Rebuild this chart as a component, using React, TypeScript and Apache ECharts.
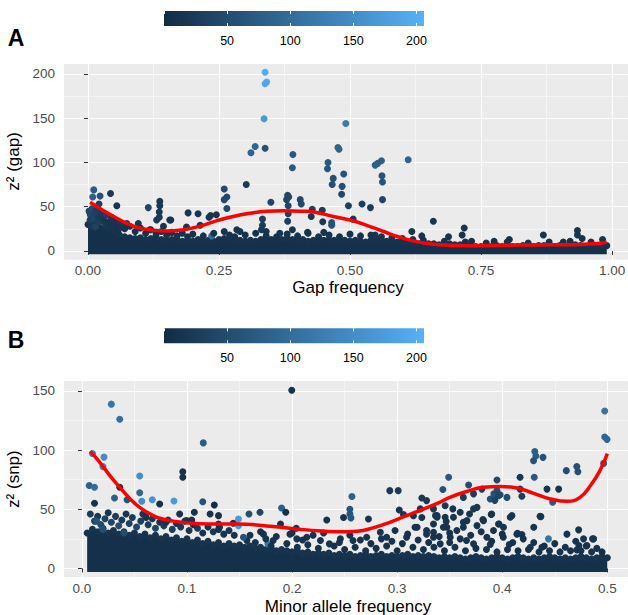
import React, { useEffect, useRef } from "react";
import * as echarts from "echarts";

// ---------- colour scale ----------
const colorMin = 0;
const colorMax = 206;
const colorLow = "#132B43";
const colorHigh = "#56B1F7";

// ---------- Panel A : gap ----------
const gapBandX = [
  0.0, 0.01, 0.02, 0.03, 0.04, 0.05, 0.06, 0.07, 0.08, 0.09,
  0.1, 0.11, 0.12, 0.13, 0.14, 0.15, 0.16, 0.17, 0.18, 0.19,
  0.2, 0.21, 0.22, 0.23, 0.24, 0.25, 0.26, 0.27, 0.28, 0.29,
  0.3, 0.31, 0.32, 0.33, 0.34, 0.35, 0.36, 0.37, 0.38, 0.39,
  0.4, 0.41, 0.42, 0.43, 0.44, 0.45, 0.46, 0.47, 0.48, 0.49,
  0.5, 0.51, 0.52, 0.53, 0.54, 0.55, 0.56, 0.57, 0.58, 0.59,
  0.6, 0.61, 0.62, 0.63, 0.64, 0.65, 0.66, 0.67, 0.68, 0.69,
  0.7, 0.71, 0.72, 0.73, 0.74, 0.75, 0.76, 0.77, 0.78, 0.79,
  0.8, 0.81, 0.82, 0.83, 0.84, 0.85, 0.86, 0.87, 0.88, 0.89,
  0.9, 0.91, 0.92, 0.93, 0.94, 0.95, 0.96, 0.97, 0.98, 0.99,
];
const gapBandTop = [
  30, 34, 28, 26, 24, 21, 18, 16, 15, 14,
  15, 13, 14, 15, 13, 12, 13, 12, 11, 12,
  11, 13, 11, 12, 11, 13, 14, 12, 11, 12,
  11, 12, 11, 13, 14, 13, 12, 13, 14, 13,
  12, 13, 11, 12, 13, 12, 13, 12, 11, 12,
  11, 12, 11, 10, 12, 13, 12, 11, 10, 10,
  9, 10, 9, 8, 9, 8, 8, 7, 8, 8,
  7, 7, 6, 6, 5, 5, 6, 5, 6, 5,
  6, 5, 5, 6, 5, 5, 6, 6, 5, 5,
  6, 5, 6, 7, 6, 5, 6, 6, 7, 6,
];
const gapBandFloor = -3.8;
const gapBandC = 10;

// [x, z^2, colour value]
const gapPoints = [
  [0.338, 202, 200], [0.341, 191, 195], [0.338, 189, 190], [0.336, 149.5, 170], [0.492, 144, 120],
  [0.319, 118, 90], [0.311, 111, 85], [0.338, 116, 60], [0.477, 117, 85], [0.479, 115, 85],
  [0.391, 109, 70], [0.39, 94, 70], [0.458, 100, 65], [0.457, 93, 65], [0.548, 97, 80],
  [0.553, 99, 80], [0.56, 102, 80], [0.611, 103, 85], [0.561, 85, 60], [0.562, 78, 60],
  [0.468, 82, 55], [0.466, 75, 55], [0.485, 73, 55], [0.488, 87, 60], [0.484, 64, 45],
  [0.302, 75, 25], [0.381, 63, 40], [0.383, 61, 40], [0.379, 58, 40], [0.382, 51, 40],
  [0.382, 42, 35], [0.381, 33.5, 30], [0.405, 58, 45], [0.407, 53, 45], [0.349, 55, 40],
  [0.428, 47, 30], [0.447, 46, 25], [0.426, 39, 20], [0.497, 51, 30], [0.523, 53, 30],
  [0.539, 49, 30], [0.562, 58, 40], [0.448, 33, 20], [0.465, 32, 60], [0.465, 29, 60],
  [0.333, 36, 30], [0.333, 29, 25], [0.366, 20, 15], [0.39, 24, 15], [0.419, 21, 15],
  [0.45, 21, 15], [0.506, 36, 20], [0.659, 33.5, 15], [0.618, 22, 15], [0.637, 17, 12],
  [0.29, 22, 15], [0.331, 24, 20], [0.34, 22, 15], [0.548, 18, 15],
  [0.011, 69, 75], [0.009, 61, 80], [0.023, 62, 60], [0.043, 65, 20], [0.055, 51, 15],
  [0.017, 39, 15], [0.004, 42, 20], [0.004, 31, 15], [0.115, 49, 40], [0.137, 56, 20],
  [0.137, 51, 20], [0.136, 44, 20], [0.136, 38, 20], [0.158, 35, 15], [0.191, 43, 15],
  [0.234, 40, 15], [0.245, 41, 15], [0.236, 17, 100], [0.26, 70, 45], [0.265, 61, 45],
  [0.26, 58, 45], [0.265, 48, 45], [0.144, 28, 15], [0.021, 53, 30], [0.21, 42, 15],
  [0.231, 38, 15], [0.096, 31, 15], [0.156, 35, 15], [0.188, 27, 15], [0.074, 31, 15],
  [0.045, 32, 20], [0.013, 44, 45], [0.013, 37, 30], [0.064, 28, 15], [0.118, 24, 15],
  [0.131, 35, 20], [0.214, 29, 15], [0.284, 24, 15],
  [0.718, 26, 15], [0.714, 18, 12], [0.688, 16, 12], [0.732, 11, 10], [0.775, 11, 10],
  [0.804, 13, 10], [0.869, 18, 12], [0.934, 23, 15], [0.934, 18, 15], [0.943, 14, 12],
  [0.982, 13, 10], [0.907, 10, 10],
  [0.002, 45, 40], [0.005, 40, 45], [0.008, 48, 50], [0.004, 35, 30], [0.01, 42, 35],
  [0.012, 36, 40], [0.015, 46, 30], [0.018, 32, 25], [0.006, 28, 20], [0.014, 27, 35],
  [0.022, 33, 30], [0.027, 38, 20], [0.033, 30, 25], [0.038, 27, 15], [0.043, 35, 20],
  [0.048, 26, 12], [0.052, 29, 18], [0.058, 24, 10],
  [0.02, 38, 20], [0.025, 44, 25], [0.03, 35, 15], [0.035, 41, 30], [0.04, 32, 12],
  [0.045, 38, 20], [0.05, 30, 10], [0.055, 34, 15], [0.06, 27, 12], [0.065, 31, 18],
  [0.07, 25, 10], [0.08, 28, 15], [0.09, 22, 10], [0.1, 26, 12], [0.11, 20, 10],
  [0.12, 24, 14], [0.13, 19, 9], [0.14, 22, 12], [0.15, 18, 10], [0.16, 21, 9],
  [0.17, 17, 11], [0.18, 20, 10], [0.19, 16, 9], [0.2, 19, 12], [0.22, 17, 10],
  [0.24, 20, 11], [0.26, 22, 12], [0.27, 18, 10], [0.28, 16, 9], [0.3, 18, 12],
  [0.32, 20, 10], [0.34, 17, 11], [0.36, 16, 9], [0.38, 19, 12], [0.4, 17, 10],
  [0.42, 20, 11], [0.44, 16, 9], [0.46, 18, 12], [0.48, 16, 10], [0.5, 19, 11],
  [0.52, 17, 9], [0.54, 18, 12], [0.56, 16, 10], [0.58, 15, 11], [0.6, 14, 9],
  [0.62, 13, 10], [0.64, 12, 9], [0.68, 11, 10], [0.72, 10, 9], [0.76, 9, 10],
  [0.8, 10, 9], [0.84, 9, 10], [0.88, 10, 9], [0.92, 11, 10], [0.96, 10, 9],
];

const gapCurveX = [
  0.004, 0.023, 0.055, 0.087, 0.118, 0.15, 0.182, 0.214, 0.245, 0.277, 0.309,
  0.341, 0.373, 0.405, 0.436, 0.468, 0.5, 0.532, 0.564, 0.595, 0.627, 0.659,
  0.691, 0.723, 0.754, 0.786, 0.85, 0.913, 0.945, 0.977, 0.99,
];
const gapCurveY = [
  55, 48, 37, 28, 24, 22.5, 24, 28, 34, 39, 42.6,
  45, 45.5, 45, 43.5, 39, 35, 29, 22, 15.5, 10.5, 7.5,
  6.4, 6, 6, 6.4, 6.8, 7, 7.7, 8.6, 10,
];

// ---------- Panel B : snp ----------
const snpBandX = [
  0.005, 0.01, 0.015, 0.02, 0.025, 0.03, 0.035, 0.04, 0.045, 0.05,
  0.055, 0.06, 0.065, 0.07, 0.075, 0.08, 0.085, 0.09, 0.095, 0.1,
  0.105, 0.11, 0.115, 0.12, 0.125, 0.13, 0.135, 0.14, 0.145, 0.15,
  0.155, 0.16, 0.165, 0.17, 0.175, 0.18, 0.185, 0.19, 0.195, 0.2,
  0.205, 0.21, 0.215, 0.22, 0.225, 0.23, 0.235, 0.24, 0.245, 0.25,
  0.255, 0.26, 0.265, 0.27, 0.275, 0.28, 0.285, 0.29, 0.295, 0.3,
  0.305, 0.31, 0.315, 0.32, 0.325, 0.33, 0.335, 0.34, 0.345, 0.35,
  0.355, 0.36, 0.365, 0.37, 0.375, 0.38, 0.385, 0.39, 0.395, 0.4,
  0.405, 0.41, 0.415, 0.42, 0.425, 0.43, 0.435, 0.44, 0.445, 0.45,
  0.455, 0.46, 0.465, 0.47, 0.475, 0.48, 0.485, 0.49, 0.495, 0.5,
];
const snpBandTop = [
  30, 33, 31, 34, 30, 32, 29, 31, 28, 30,
  27, 29, 26, 28, 25, 27, 24, 26, 23, 25,
  22, 24, 21, 23, 20, 22, 19, 21, 19, 20,
  18, 19, 17, 18, 16, 17, 15, 16, 15, 14,
  15, 13, 14, 12, 13, 12, 13, 11, 12, 11,
  12, 10, 11, 12, 10, 11, 12, 10, 11, 10,
  11, 12, 10, 11, 10, 11, 10, 9, 10, 9,
  10, 9, 8, 9, 10, 9, 8, 9, 10, 9,
  8, 9, 10, 9, 8, 9, 8, 9, 10, 9,
  8, 9, 8, 9, 10, 9, 8, 9, 10, 9,
];
const snpBandFloor = -2.9;
const snpBandC = 12;

const snpPoints = [
  [0.1997, 150.5, 10], [0.028, 138.7, 110], [0.036, 126, 105], [0.1155, 106, 75], [0.01, 97, 130],
  [0.021, 94, 150], [0.02, 86, 140], [0.096, 81.7, 10], [0.096, 77, 10], [0.055, 78, 150],
  [0.007, 70, 80], [0.012, 68.5, 100], [0.036, 68.5, 8], [0.055, 64, 90], [0.031, 59.5, 80],
  [0.043, 58, 60], [0.057, 56.7, 150], [0.067, 58, 160], [0.074, 54.5, 8], [0.0876, 57, 170],
  [0.115, 56.4, 60], [0.126, 53.6, 5], [0.012, 55, 10], [0.149, 41.8, 170], [0.149, 36, 170],
  [0.159, 46, 55], [0.1695, 47.4, 40], [0.19, 51, 80], [0.194, 47.4, 8], [0.189, 37.6, 12],
  [0.204, 34, 12], [0.177, 20.8, 120],
  [0.257, 60.7, 80], [0.255, 50, 65], [0.255, 46, 65], [0.256, 42.7, 65], [0.249, 43, 10],
  [0.233, 41, 10], [0.293, 65.7, 20], [0.301, 65.7, 25], [0.3235, 59.5, 20], [0.2727, 41.8, 15],
  [0.302, 49.4, 15], [0.306, 45.5, 15], [0.3155, 44.6, 15], [0.338, 44.6, 15], [0.3235, 43, 15],
  [0.157, 23.6, 12], [0.214, 26.4, 12], [0.227, 23.6, 12], [0.2355, 20.8, 12], [0.246, 25, 12],
  [0.258, 23.6, 12], [0.271, 26.4, 12], [0.284, 30.6, 12], [0.29, 26.4, 12], [0.298, 32, 12],
  [0.309, 26.4, 12], [0.319, 34.8, 12], [0.328, 29, 12], [0.3346, 37.6, 12], [0.1727, 29, 12],
  [0.182, 23.6, 12], [0.198, 29, 12], [0.2045, 25, 12], [0.1537, 26.4, 60],
  [0.4975, 133, 110], [0.4975, 111, 90], [0.4997, 109, 90], [0.4965, 88.7, 70], [0.431, 98.8, 80],
  [0.432, 95, 75], [0.4388, 93.8, 60], [0.4298, 91, 60], [0.461, 82.6, 50], [0.471, 86, 55],
  [0.472, 81.7, 55], [0.4305, 77, 70], [0.417, 77, 20], [0.349, 77, 70], [0.368, 70.5, 50],
  [0.395, 74.7, 45], [0.3435, 66.6, 60], [0.4426, 67, 15], [0.4537, 67, 15], [0.448, 56, 70],
  [0.444, 25, 110],
  [0.392, 63, 60], [0.398, 62.3, 55], [0.4045, 60, 50], [0.3886, 58.7, 55], [0.395, 65.7, 50],
  [0.417, 67, 20], [0.4187, 61, 30], [0.436, 44, 15], [0.4076, 43.3, 15], [0.397, 37.6, 15],
  [0.4616, 29, 12], [0.4727, 32.6, 12], [0.473, 19.4, 12], [0.487, 25, 12], [0.3727, 50.3, 20],
  [0.376, 51.6, 20], [0.36, 47.4, 15], [0.328, 57.3, 20], [0.322, 50.3, 15], [0.338, 43.3, 15],
  [0.3467, 39.6, 15], [0.3536, 43.3, 15], [0.3664, 40.4, 15], [0.363, 34.8, 12], [0.3816, 41.3, 15],
  [0.39, 46, 15], [0.4092, 44.6, 15], [0.414, 29, 12], [0.344, 34.8, 12], [0.328, 32, 12],
  [0.317, 34.8, 12], [0.3346, 26.4, 12], [0.35, 22, 12], [0.3727, 20.8, 12], [0.3854, 26.4, 12],
  [0.401, 26.4, 12], [0.43, 34.8, 12], [0.3346, 50.3, 20], [0.3457, 53, 20], [0.363, 60, 25],
  [0.3727, 63, 25], [0.3806, 67, 30], [0.3965, 61.5, 40], [0.393, 57.5, 35], [0.3365, 44.6, 15],
  [0.3457, 43.3, 15], [0.353, 50.3, 15], [0.3689, 46, 15], [0.376, 36.2, 12], [0.3822, 40.4, 12],
  [0.3895, 45.5, 15], [0.3965, 37.6, 12], [0.4012, 34.8, 12], [0.4146, 29.7, 12], [0.4187, 28.6, 12],
  [0.4368, 43.8, 15], [0.4774, 25, 12], [0.486, 25, 12], [0.4806, 19.4, 12], [0.4378, 18, 12],
  [0.4267, 18, 12], [0.4067, 20.2, 12], [0.3886, 20.2, 12], [0.366, 23.6, 12], [0.3505, 26.4, 12],
  [0.341, 20.8, 12], [0.3346, 30.6, 12], [0.3917, 32, 12], [0.3568, 32, 12], [0.363, 39, 12],
  [0.3473, 34.8, 12], [0.4711, 15.7, 12],
  [0.008, 46, 25], [0.012, 40, 30], [0.015, 44, 20], [0.018, 37, 45], [0.022, 42, 35],
  [0.025, 47, 15], [0.028, 39, 40], [0.032, 44, 28], [0.035, 36, 50], [0.038, 41, 22],
  [0.042, 46, 18], [0.045, 38, 35], [0.048, 43, 25], [0.052, 35, 42], [0.056, 40, 30],
  [0.06, 45, 15], [0.063, 37, 28], [0.067, 42, 20], [0.07, 34, 38], [0.074, 39, 12],
  [0.078, 36, 25], [0.082, 41, 18], [0.086, 33, 30], [0.09, 38, 10], [0.094, 35, 22],
  [0.098, 40, 14], [0.102, 32, 20], [0.106, 37, 12], [0.11, 34, 25], [0.115, 30, 10],
  [0.12, 35, 15], [0.125, 31, 20], [0.13, 33, 8], [0.135, 29, 12], [0.14, 32, 18],
  [0.145, 28, 10], [0.014, 40, 60], [0.02, 33, 55], [0.04, 30, 50],
  [0.093, 46, 10], [0.107, 47.4, 10], [0.122, 46, 10], [0.13, 44.6, 10], [0.058, 46, 12],
  [0.061, 43, 12], [0.08, 39, 12], [0.0997, 40.4, 10], [0.1045, 41, 10], [0.13, 37.6, 10],
  [0.131, 34.8, 10], [0.144, 38.2, 10],
  [0.16, 28, 12], [0.165, 22, 10], [0.17, 31, 8], [0.175, 25, 15], [0.18, 19, 10],
  [0.185, 27, 12], [0.195, 21, 8], [0.2, 30, 10], [0.205, 18, 12], [0.21, 24, 9],
  [0.215, 20, 11], [0.22, 28, 10], [0.225, 17, 12], [0.23, 30, 9], [0.24, 19, 10],
  [0.245, 22, 13], [0.25, 16, 8], [0.255, 28, 12], [0.26, 18, 9], [0.265, 24, 10],
  [0.27, 15, 12], [0.275, 21, 8], [0.28, 17, 10], [0.285, 25, 11], [0.29, 19, 9],
  [0.295, 23, 12], [0.3, 15, 10], [0.305, 21, 8], [0.31, 29, 11], [0.315, 18, 9],
  [0.32, 24, 12], [0.325, 16, 10], [0.33, 22, 8], [0.335, 18, 12], [0.34, 27, 10],
  [0.345, 15, 9], [0.35, 30, 11], [0.355, 18, 10], [0.36, 25, 12], [0.365, 15, 8],
  [0.37, 28, 10], [0.375, 17, 9], [0.38, 31, 12], [0.385, 16, 10], [0.39, 23, 8],
  [0.395, 14, 11], [0.4, 29, 9], [0.405, 16, 12], [0.41, 22, 10], [0.415, 15, 8],
  [0.42, 25, 11], [0.425, 16, 9], [0.43, 22, 12], [0.435, 14, 10], [0.44, 19, 8],
  [0.445, 15, 11], [0.45, 21, 9], [0.455, 14, 12], [0.46, 18, 10], [0.465, 15, 8],
  [0.47, 23, 11], [0.475, 15, 9], [0.48, 19, 10], [0.485, 14, 12], [0.49, 17, 10],
  [0.495, 14, 8],
];

const snpCurveX = [
  0.008, 0.017, 0.027, 0.036, 0.046, 0.055, 0.065, 0.074, 0.087, 0.1, 0.122,
  0.147, 0.182, 0.214, 0.246, 0.262, 0.277, 0.293, 0.309, 0.325, 0.341, 0.35,
  0.366, 0.382, 0.398, 0.414, 0.43, 0.446, 0.462, 0.474, 0.484, 0.493, 0.5,
];
const snpCurveY = [
  98.8, 89.6, 78, 68.5, 58.7, 51.6, 46, 42.4, 40, 38.5, 37.6,
  37.6, 35.4, 32.6, 31, 31.5, 34.3, 39, 44.6, 50.2, 56, 60,
  65, 68.5, 69.3, 68, 63.4, 58.7, 56.7, 60, 70, 82.6, 97,
];

// ---------- layout ----------
const FONT = "'Liberation Sans', Arial, Helvetica, sans-serif";
const PANEL_A = { left: 63, top: 63.1, width: 565, height: 196.7 };
const PANEL_B = { left: 63, top: 380.7, width: 565, height: 196.8 };
const BAR_A = { left: 164, top: 11, width: 260, height: 15 };
const BAR_B = { left: 164, top: 328.3, width: 260, height: 15 };
const BAND_FILL = "#15304A";
const DOT = 7;

function mainX(gridIndex: number, min: number, max: number, step: number, digits: number, name: string, nameGap: number) {
  return {
    type: "value", gridIndex, min, max, minInterval: step, maxInterval: step, splitNumber: 5,
    name, nameLocation: "middle", nameGap,
    nameTextStyle: { fontSize: 17, color: "#000000", fontFamily: FONT, padding: [0, 0, 0, 5] },
    axisLine: { show: false },
    axisTick: { show: true, length: 4, lineStyle: { color: "#333333", width: 1 } },
    axisLabel: {
      show: true, margin: 4, fontSize: 13.5, color: "#4D4D4D", fontFamily: FONT,
      showMinLabel: false, showMaxLabel: false,
      formatter: (v: number) => v.toFixed(digits),
    },
    splitLine: { show: true, lineStyle: { color: "#FFFFFF", width: 1.1 } },
    minorTick: { show: false, splitNumber: 2 },
    minorSplitLine: { show: true, lineStyle: { color: "#FFFFFF", width: 0.5 } },
  };
}

function mainY(gridIndex: number, min: number, max: number, name: string) {
  return {
    type: "value", gridIndex, min, max, minInterval: 50, maxInterval: 50, splitNumber: 5,
    name, nameLocation: "middle", nameGap: 31, nameRotate: 90,
    nameTextStyle: { fontSize: 17, color: "#000000", fontFamily: FONT },
    axisLine: { show: false },
    axisTick: { show: true, length: 4, lineStyle: { color: "#333333", width: 1 } },
    axisLabel: {
      show: true, margin: 8, fontSize: 13.5, color: "#4D4D4D", fontFamily: FONT,
      showMinLabel: false, showMaxLabel: false,
    },
    splitLine: { show: true, lineStyle: { color: "#FFFFFF", width: 1.1 } },
    minorTick: { show: false, splitNumber: 2 },
    minorSplitLine: { show: true, lineStyle: { color: "#FFFFFF", width: 0.5 } },
  };
}

function barX(gridIndex: number, position: string, showLabel: boolean) {
  return {
    type: "value", gridIndex, position, min: colorMin, max: colorMax,
    minInterval: 50, maxInterval: 50, z: 10,
    axisLine: { show: false },
    axisTick: { show: true, inside: true, length: 3, lineStyle: { color: "#FFFFFF", width: 1 } },
    splitLine: { show: false },
    axisLabel: {
      show: showLabel, margin: 8, fontSize: 12.5, color: "#000000", fontFamily: FONT,
      showMinLabel: false, showMaxLabel: false,
    },
  };
}

function bandSeries(axisIndex: number, xs: number[], tops: number[], floor: number) {
  return {
    type: "custom", xAxisIndex: axisIndex, yAxisIndex: axisIndex, silent: true, z: 1,
    data: xs.map((x, i) => [x, tops[i]]),
    encode: { x: 0, y: 1 },
    renderItem: (params: any, api: any) => {
      if (params.dataIndex !== 0) return null;
      const pts: number[][] = [api.coord([xs[0], floor])];
      for (let i = 0; i < xs.length; i++) pts.push(api.coord([xs[i], tops[i]]));
      pts.push(api.coord([xs[xs.length - 1], floor]));
      return { type: "polygon", shape: { points: pts }, style: { fill: BAND_FILL } };
    },
  };
}

function curveSeries(axisIndex: number, xs: number[], ys: number[]) {
  return {
    type: "line", xAxisIndex: axisIndex, yAxisIndex: axisIndex, silent: true, z: 5,
    data: xs.map((x, i) => [x, ys[i]]),
    smooth: 0.5, showSymbol: false, symbol: "none",
    lineStyle: { color: "#FF0000", width: 3.5 },
  };
}

function buildOption() {
  const gapScatter = [...gapBandX.map((x, i) => [x, gapBandTop[i], gapBandC]), ...gapPoints];
  const snpScatter = [...snpBandX.map((x, i) => [x, snpBandTop[i], snpBandC]), ...snpPoints];
  const gradient = () =>
    new echarts.graphic.LinearGradient(0, 0, 1, 0, [
      { offset: 0, color: colorLow },
      { offset: 1, color: colorHigh },
    ]);
  const gridBase = { show: true, backgroundColor: "#EBEBEB", borderWidth: 0, containLabel: false, outerBoundsMode: "none" };
  return {
    animation: false,
    backgroundColor: "#FFFFFF",
    textStyle: { fontFamily: FONT },
    grid: [
      { ...gridBase, ...PANEL_A },
      { ...gridBase, ...PANEL_B },
      { show: false, containLabel: false, outerBoundsMode: "none", ...BAR_A },
      { show: false, containLabel: false, outerBoundsMode: "none", ...BAR_B },
    ],
    xAxis: [
      mainX(0, -0.0477, 1.0305, 0.25, 2, "Gap frequency", 19),
      mainX(1, -0.018, 0.5197, 0.1, 1, "Minor allele frequency", 20),
      barX(2, "bottom", true),
      barX(2, "top", false),
      barX(3, "bottom", true),
      barX(3, "top", false),
    ],
    yAxis: [
      mainY(0, -10, 212.3, "z\u00B2 (gap)"),
      mainY(1, -7.6, 158.5, "z\u00B2 (snp)"),
      { type: "value", gridIndex: 2, min: 0, max: 1, show: false },
      { type: "value", gridIndex: 3, min: 0, max: 1, show: false },
    ],
    visualMap: [
      { type: "continuous", show: false, min: colorMin, max: colorMax, dimension: 2, seriesIndex: 1, inRange: { color: [colorLow, colorHigh] } },
      { type: "continuous", show: false, min: colorMin, max: colorMax, dimension: 2, seriesIndex: 4, inRange: { color: [colorLow, colorHigh] } },
    ],
    graphic: [
      { type: "rect", z: 1, shape: { x: BAR_A.left, y: BAR_A.top, width: BAR_A.width, height: BAR_A.height }, style: { fill: gradient() } },
      { type: "rect", z: 1, shape: { x: BAR_B.left, y: BAR_B.top, width: BAR_B.width, height: BAR_B.height }, style: { fill: gradient() } },
      { type: "text", z: 1, style: { text: "A", x: 16, y: 38, align: "center", verticalAlign: "middle", fontSize: 23, fontWeight: "bold", fontFamily: FONT, fill: "#000000" } },
      { type: "text", z: 1, style: { text: "B", x: 16, y: 340, align: "center", verticalAlign: "middle", fontSize: 23, fontWeight: "bold", fontFamily: FONT, fill: "#000000" } },
    ],
    series: [
      bandSeries(0, gapBandX, gapBandTop, gapBandFloor),
      { type: "scatter", xAxisIndex: 0, yAxisIndex: 0, symbolSize: DOT, data: gapScatter, silent: true, z: 2, itemStyle: { opacity: 1 } },
      curveSeries(0, gapCurveX, gapCurveY),
      bandSeries(1, snpBandX, snpBandTop, snpBandFloor),
      { type: "scatter", xAxisIndex: 1, yAxisIndex: 1, symbolSize: DOT, data: snpScatter, silent: true, z: 2, itemStyle: { opacity: 1 } },
      curveSeries(1, snpCurveX, snpCurveY),
    ],
  };
}

export default function App() {
  const ref = useRef<HTMLDivElement>(null);
  useEffect(() => {
    if (!ref.current) return;
    const chart = echarts.init(ref.current, undefined, { renderer: "svg" });
    chart.setOption(buildOption() as any);
    return () => chart.dispose();
  }, []);
  return <div ref={ref} style={{ position: "absolute", left: 0, top: 0, width: 628, height: 615 }} />;
}
